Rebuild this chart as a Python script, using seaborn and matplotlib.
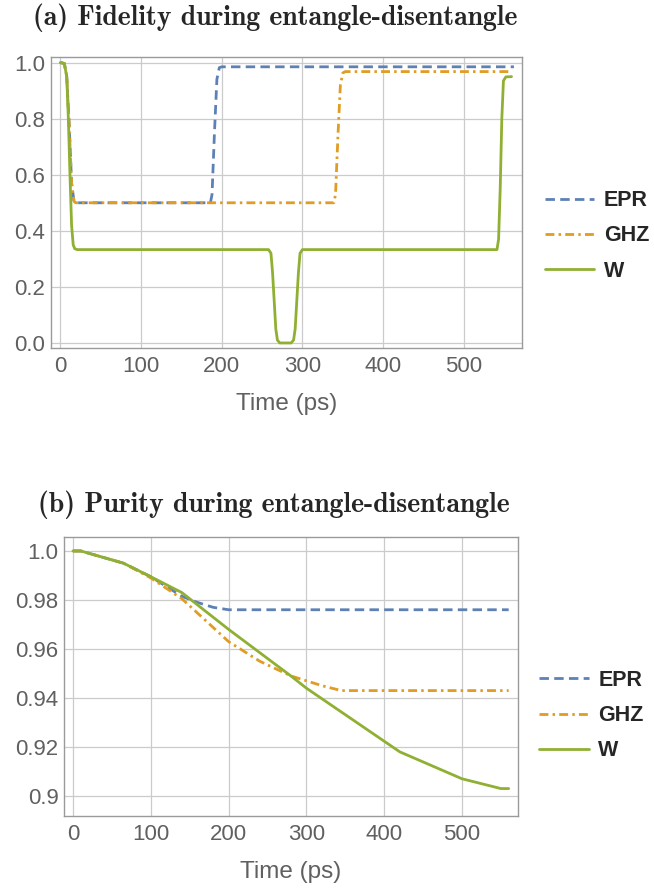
import numpy as np
import pandas as pd
import seaborn as sns
import matplotlib
matplotlib.use("Agg")
import matplotlib.pyplot as plt
from matplotlib.ticker import FixedLocator, FixedFormatter

# ---------------- data ----------------
states = ["EPR", "GHZ", "W"]
colors = ["#5E81B5", "#E19C24", "#8FB032"]

# (a) fidelity
fid_t_epr = [0, 5, 8, 11, 14, 17, 19, 186, 188, 191, 194, 197, 200, 562]
fid_v_epr = [1.0, 0.997, 0.95, 0.78, 0.57, 0.505, 0.5, 0.5, 0.53, 0.75, 0.94, 0.982, 0.985, 0.985]
fid_t_ghz = [0, 5, 8, 11, 14, 17, 19, 339, 341, 344, 347, 350, 353, 559]
fid_v_ghz = [1.0, 0.997, 0.95, 0.78, 0.57, 0.505, 0.5, 0.5, 0.53, 0.74, 0.92, 0.963, 0.968, 0.968]
fid_t_w = [0, 5, 8, 10, 12, 14, 16, 18, 21, 258, 261, 263, 265, 267, 269, 272,
           286, 289, 291, 293, 295, 297, 300, 541, 543, 545, 547, 549, 552, 559]
fid_v_w = [1.0, 0.997, 0.95, 0.8, 0.6, 0.42, 0.35, 0.336, 0.333, 0.333, 0.32, 0.25, 0.15, 0.05, 0.01, 0.0,
           0.0, 0.01, 0.05, 0.15, 0.25, 0.32, 0.333, 0.333, 0.37, 0.55, 0.8, 0.935, 0.949, 0.95]

# (b) purity
pur_t_epr = [0, 10, 65, 100, 140, 160, 180, 200, 560]
pur_v_epr = [1.0, 1.0, 0.995, 0.9895, 0.9815, 0.979, 0.977, 0.976, 0.976]
pur_t_ghz = [0, 10, 65, 100, 140, 200, 240, 280, 320, 345, 560]
pur_v_ghz = [1.0, 1.0, 0.995, 0.989, 0.9805, 0.963, 0.955, 0.949, 0.945, 0.943, 0.943]
pur_t_w = [0, 10, 65, 100, 140, 200, 280, 300, 420, 500, 550, 560]
pur_v_w = [1.0, 1.0, 0.995, 0.9895, 0.983, 0.968, 0.949, 0.944, 0.918, 0.907, 0.903, 0.903]

x_ticks = [0, 100, 200, 300, 400, 500]
fid_ticks = [0.0, 0.2, 0.4, 0.6, 0.8, 1.0]
fid_tick_labels = ["0.0", "0.2", "0.4", "0.6", "0.8", "1.0"]
pur_ticks = [0.90, 0.92, 0.94, 0.96, 0.98, 1.00]
pur_tick_labels = ["0.9", "0.92", "0.94", "0.96", "0.98", "1.0"]

titles = ["(a) Fidelity during entangle-disentangle",
          "(b) Purity during entangle-disentangle"]
xlabel = "Time (ps)"


def frame(ts, vs):
    return pd.concat([pd.DataFrame({"t": t, "v": v, "state": s})
                      for s, t, v in zip(states, ts, vs)], ignore_index=True)


df_fid = frame([fid_t_epr, fid_t_ghz, fid_t_w], [fid_v_epr, fid_v_ghz, fid_v_w])
df_pur = frame([pur_t_epr, pur_t_ghz, pur_t_w], [pur_v_epr, pur_v_ghz, pur_v_w])

# ---------------- style ----------------
sns.set_theme(style="white")
plt.rcParams["font.family"] = ["Liberation Sans", "DejaVu Sans"]

W, H = 654, 890
fig = plt.figure(figsize=(W / 100, H / 100), dpi=100)

def px_axes(l, t, r, b):
    return fig.add_axes([l / W, 1 - b / H, (r - l) / W, (b - t) / H])

ax1 = px_axes(51, 57, 522, 348)
ax2 = px_axes(64, 537, 518, 816)

palette = dict(zip(states, colors))
dashes = {"EPR": (3.4, 1.9), "GHZ": (3.2, 1.5, 0.9, 1.5), "W": ""}

tick_color = "#606060"
for ax, df, ylim, yt, ytl, lx, ly in [
        (ax1, df_fid, (-0.018, 1.02), fid_ticks, fid_tick_labels, 1.007, 0.385),
        (ax2, df_pur, (0.8918, 1.0057), pur_ticks, pur_tick_labels, 1.004, 0.36)]:
    sns.lineplot(data=df, x="t", y="v", hue="state", style="state",
                 palette=palette, dashes=dashes, estimator=None, sort=False,
                 linewidth=2.0, ax=ax)
    ax.set_xlim(-11.5, 572)
    ax.set_ylim(*ylim)
    ax.xaxis.set_major_locator(FixedLocator(x_ticks))
    ax.yaxis.set_major_locator(FixedLocator(yt))
    ax.yaxis.set_major_formatter(FixedFormatter(ytl))
    ax.grid(True, color="#cbcbcb", linewidth=0.9)
    ax.set_axisbelow(True)
    for sp in ax.spines.values():
        sp.set_color("#9a9a9a")
        sp.set_linewidth(1.0)
    ax.tick_params(axis="both", direction="in", length=3, width=0.8, color="#9a9a9a",
                   labelsize=16, labelcolor=tick_color, pad=4)
    ax.tick_params(axis="x", pad=6)
    ax.set_xlabel(xlabel, fontsize=17.5, color=tick_color, labelpad=11)
    ax.set_ylabel("")
    leg = ax.get_legend()
    handles = list(leg.legend_handles)
    labels = [t.get_text() for t in leg.get_texts()]
    leg.remove()
    pairs = [(h, l) for h, l in zip(handles, labels) if l in states]
    for h, _ in pairs:
        h.set_linewidth(2.0)
    ax.legend([p[0] for p in pairs], [p[1] for p in pairs],
              loc="center left", bbox_to_anchor=(lx, ly), frameon=False,
              handlelength=2.3, handletextpad=0.45, labelspacing=0.66,
              prop={"family": "Liberation Sans", "weight": "bold", "size": 15.5})

fig.text(33 / W, 1 - 18 / H, titles[0], fontsize=20, fontweight="bold",
         family=["cmb10", "DejaVu Serif"], va="center", ha="left")
fig.text(38 / W, 1 - 505 / H, titles[1], fontsize=20, fontweight="bold",
         family=["cmb10", "DejaVu Serif"], va="center", ha="left")

fig.savefig("out.png", dpi=100)
